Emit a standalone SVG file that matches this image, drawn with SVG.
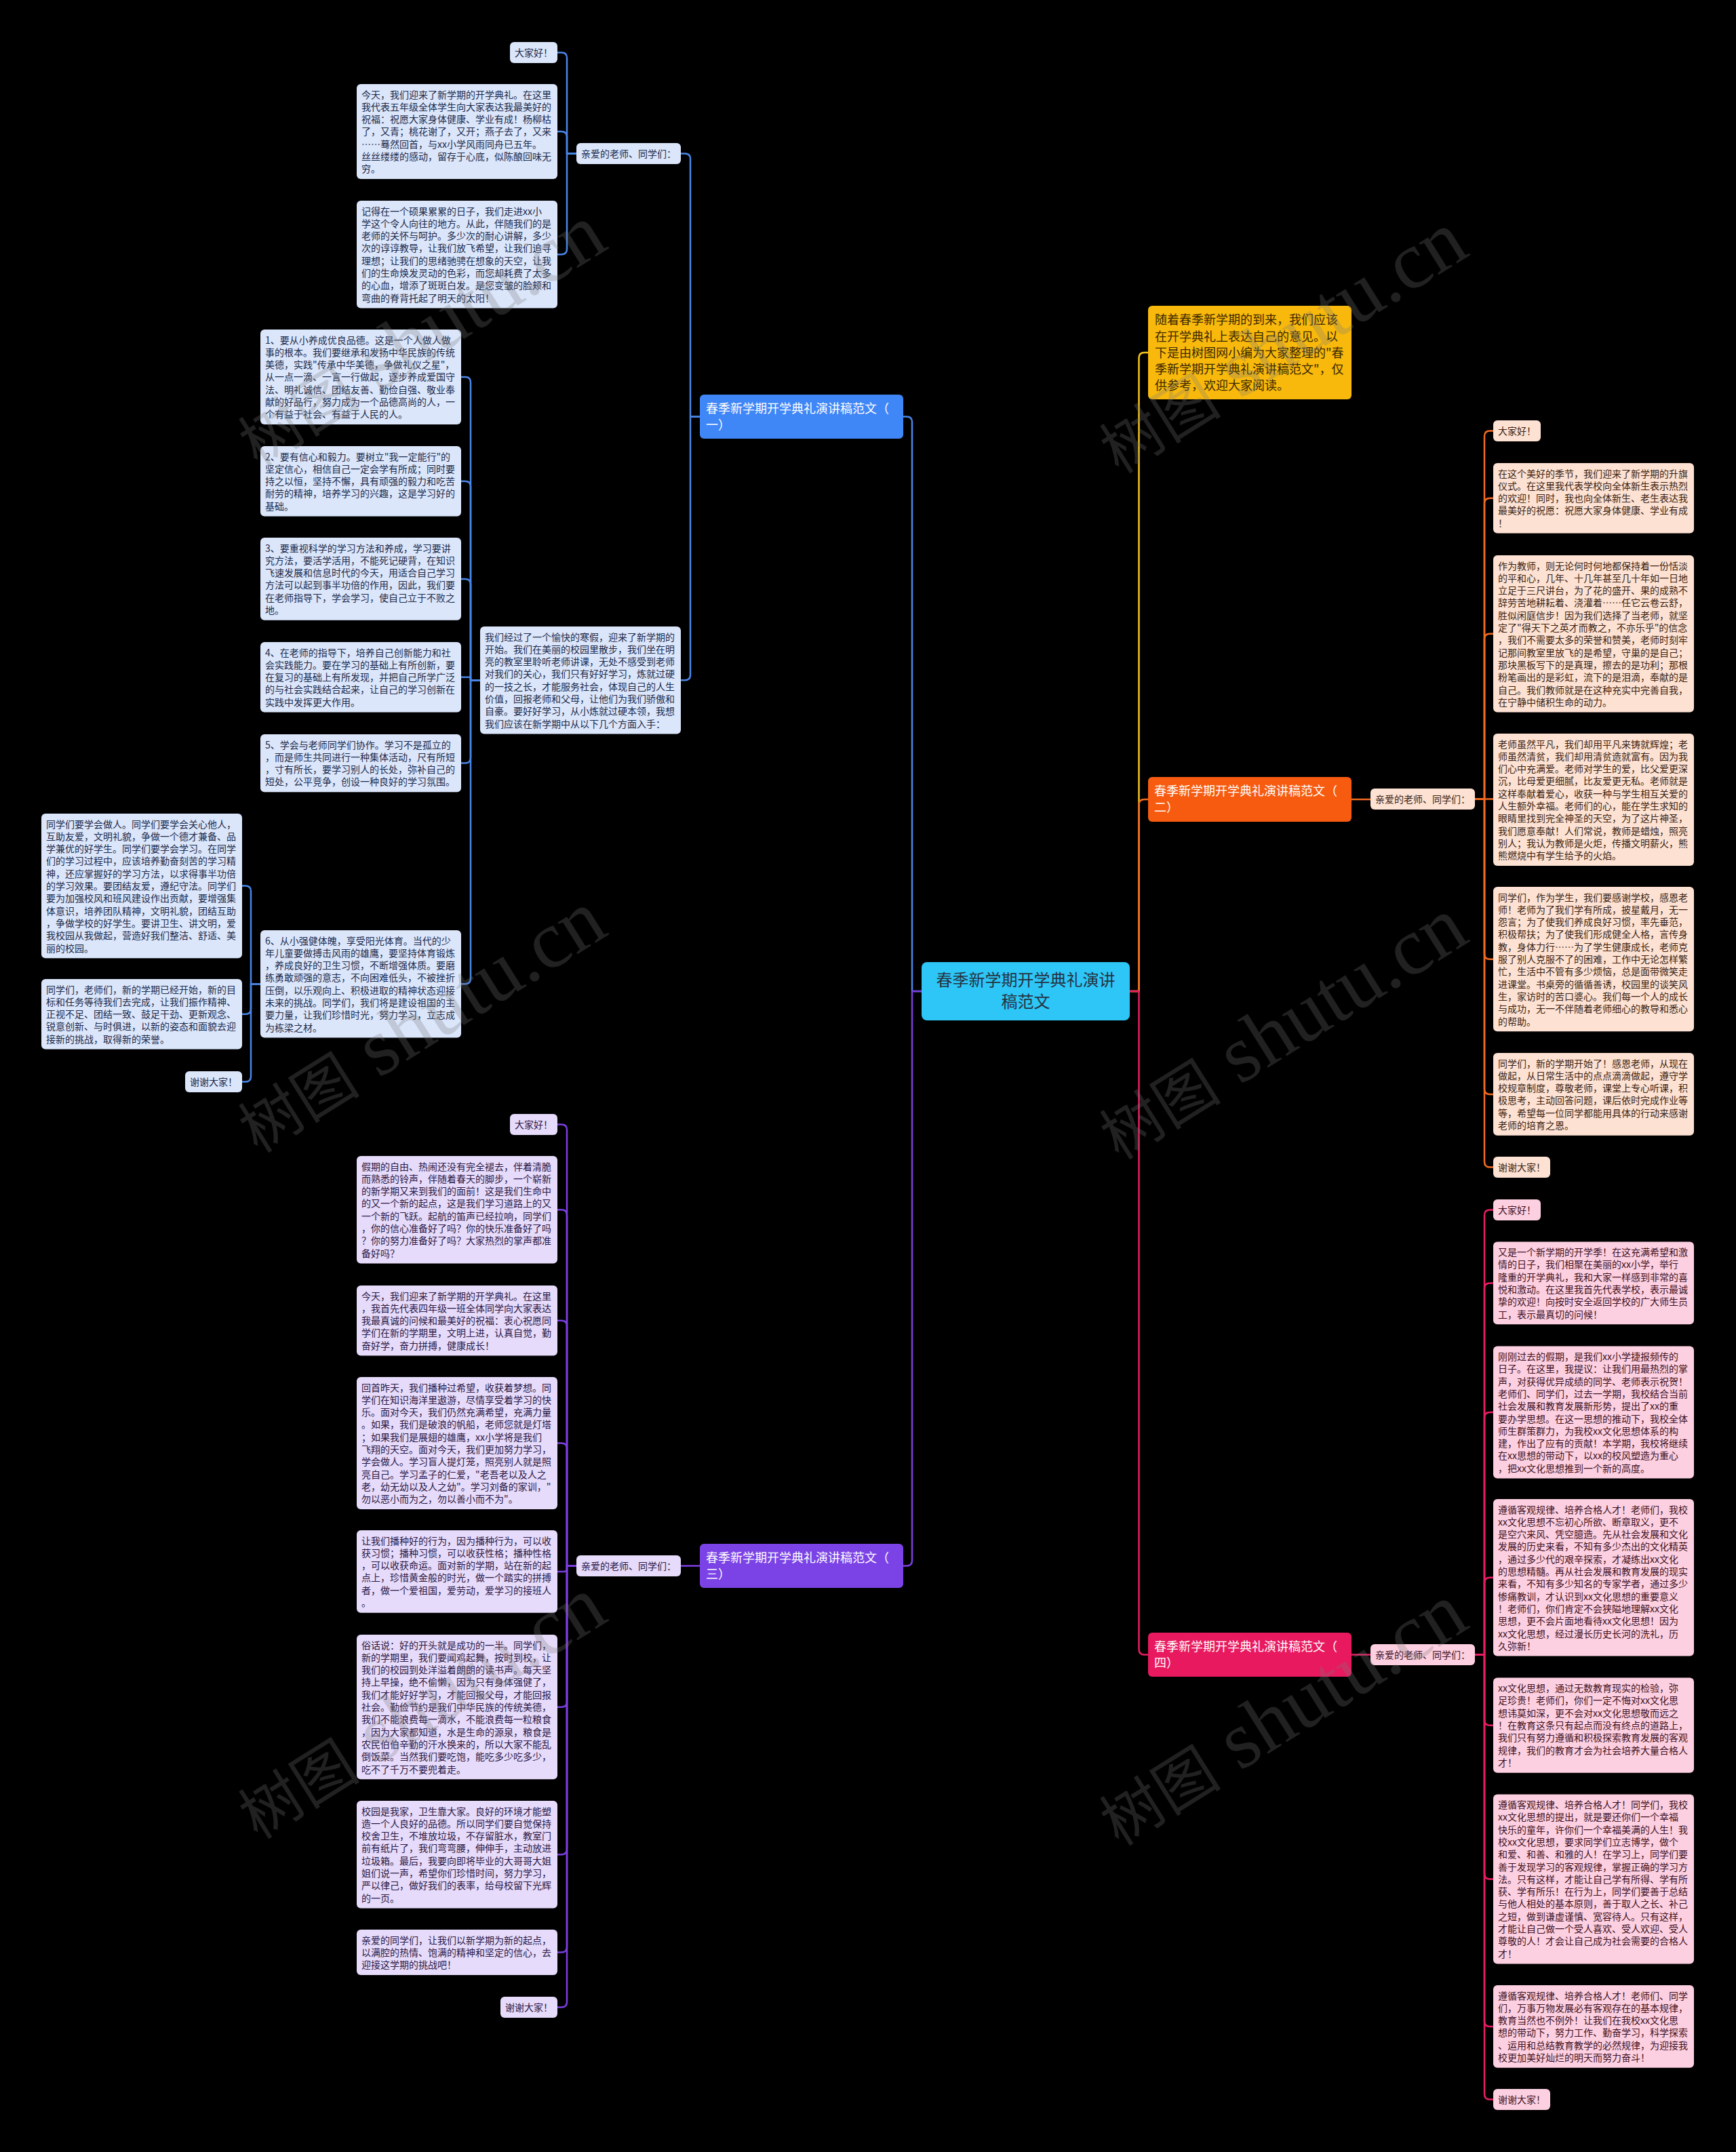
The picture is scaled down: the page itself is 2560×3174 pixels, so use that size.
<svg xmlns="http://www.w3.org/2000/svg" width="2560" height="3174" viewBox="0 0 2560 3174">
<defs>
<style>
text{font-family:"Noto Sans CJK SC","Noto Sans",sans-serif;font-size:14px}
.k1>rect{fill:#dbe6fb}.k1 text{fill:#1b2a4a}
.k2>rect{fill:#fde2d3}.k2 text{fill:#3b1f12}
.k3>rect{fill:#e6dbfa}.k3 text{fill:#2a1846}
.k4>rect{fill:#fdd0e1}.k4 text{fill:#3d1022}
.hd text{font-size:18px;fill:#ffffff}
.h1>rect{fill:#3f86f6}.h2>rect{fill:#f65b10}.h3>rect{fill:#7b43e6}.h4>rect{fill:#e8195f}
.ln{fill:none;stroke-width:2.5;stroke-linecap:round;stroke-linejoin:round}
.l1{stroke:#4a86e8}.l2{stroke:#f26b21}.l3{stroke:#7b3fe0}.l4{stroke:#e91e63}.l0{stroke:#f5c518}
.wm{font-family:"Liberation Serif","Noto Sans CJK SC",serif;fill:#7a7a7a;opacity:0.27}
</style>
</defs>
<rect width="2560" height="3174" fill="#000000"/>

<g id="connectors">
<path class="ln l1" d="M1359 1462H1345V622.5Q1345 614.5 1337 614.5H1332"/>
<path class="ln l1" d="M1032 614.5H1018V234.5Q1018 226.5 1010 226.5H1004"/>
<path class="ln l1" d="M1032 614.5H1018V995.2Q1018 1003.2 1010 1003.2H1004"/>
<path class="ln l1" d="M850 226.5H836V85.5Q836 77.5 828 77.5H822"/>
<path class="ln l1" d="M850 226.5H836V202Q836 194 828 194H822"/>
<path class="ln l1" d="M850 226.5H836V367.2Q836 375.2 828 375.2H822"/>
<path class="ln l1" d="M708 1003.2H694V564Q694 556 686 556H680"/>
<path class="ln l1" d="M708 1003.2H694V717.8Q694 709.8 686 709.8H680"/>
<path class="ln l1" d="M708 1003.2H694V861.9Q694 853.9 686 853.9H680"/>
<path class="ln l1" d="M708 1003.2H694V1001Q694 998.8 691.8 998.8H680"/>
<path class="ln l1" d="M708 1003.2H694V1117.6Q694 1125.6 686 1125.6H680"/>
<path class="ln l1" d="M708 1003.2H694V1443.2Q694 1451.2 686 1451.2H680"/>
<path class="ln l1" d="M384 1451.2H370V1314.6Q370 1306.6 362 1306.6H357"/>
<path class="ln l1" d="M384 1451.2H370V1487.8Q370 1495.8 362 1495.8H357"/>
<path class="ln l1" d="M384 1451.2H370V1587.5Q370 1595.5 362 1595.5H357"/>

<path class="ln l3" d="M1359 1462H1345V2301.5Q1345 2309.5 1337 2309.5H1332"/>
<path class="ln l3" d="M1032 2309.5H1004"/>
<path class="ln l3" d="M850 2309.5H836V1666.5Q836 1658.5 828 1658.5H822"/>
<path class="ln l3" d="M850 2309.5H836V1792.2Q836 1784.2 828 1784.2H822"/>
<path class="ln l3" d="M850 2309.5H836V1955.8Q836 1947.8 828 1947.8H822"/>
<path class="ln l3" d="M850 2309.5H836V2136.5Q836 2128.5 828 2128.5H822"/>
<path class="ln l3" d="M850 2309.5H836V2313.7Q836 2317.9 831.8 2317.9H822"/>
<path class="ln l3" d="M850 2309.5H836V2509.7Q836 2517.7 828 2517.7H822"/>
<path class="ln l3" d="M850 2309.5H836V2727.2Q836 2735.2 828 2735.2H822"/>
<path class="ln l3" d="M850 2309.5H836V2871.5Q836 2879.5 828 2879.5H822"/>
<path class="ln l3" d="M850 2309.5H836V2952.5Q836 2960.5 828 2960.5H822"/>

<path class="ln l0" d="M1666 1462H1679.5V528Q1679.5 520 1687.5 520H1693"/>

<path class="ln l2" d="M1666 1462H1679.5V1187Q1679.5 1179 1687.5 1179H1693"/>
<path class="ln l2" d="M1993 1179H2021"/>
<path class="ln l2" d="M2175 1178.5H2189V643.5Q2189 635.5 2197 635.5H2202"/>
<path class="ln l2" d="M2175 1178.5H2189V742.8Q2189 734.8 2197 734.8H2202"/>
<path class="ln l2" d="M2175 1178.5H2189V942.8Q2189 934.8 2197 934.8H2202"/>
<path class="ln l2" d="M2175 1178.5H2202"/>
<path class="ln l2" d="M2175 1178.5H2189V1406.7Q2189 1414.7 2197 1414.7H2202"/>
<path class="ln l2" d="M2175 1178.5H2189V1605.9Q2189 1613.9 2197 1613.9H2202"/>
<path class="ln l2" d="M2175 1178.5H2189V1713.5Q2189 1721.5 2197 1721.5H2202"/>

<path class="ln l4" d="M1666 1462H1679.5V2432.5Q1679.5 2440.5 1687.5 2440.5H1693"/>
<path class="ln l4" d="M1993 2440.5H2021"/>
<path class="ln l4" d="M2175 2440.5H2189V1792.5Q2189 1784.5 2197 1784.5H2202"/>
<path class="ln l4" d="M2175 2440.5H2189V1900.4Q2189 1892.4 2197 1892.4H2202"/>
<path class="ln l4" d="M2175 2440.5H2189V2091Q2189 2083 2197 2083H2202"/>
<path class="ln l4" d="M2175 2440.5H2189V2334.8Q2189 2326.8 2197 2326.8H2202"/>
<path class="ln l4" d="M2175 2440.5H2189V2536.7Q2189 2544.7 2197 2544.7H2202"/>
<path class="ln l4" d="M2175 2440.5H2189V2763.5Q2189 2771.5 2197 2771.5H2202"/>
<path class="ln l4" d="M2175 2440.5H2189V2980.9Q2189 2988.9 2197 2988.9H2202"/>
<path class="ln l4" d="M2175 2440.5H2189V3088.5Q2189 3096.5 2197 3096.5H2202"/>
</g>

<g id="center" transform="translate(1359 1419)">
<rect width="307" height="86" rx="8" fill="#2dc6f7"/>
<text x="153.5" y="34.6" text-anchor="middle" style="font-size:24px;fill:#253342"><tspan x="153.5">春季新学期开学典礼演讲</tspan><tspan x="153.5" dy="32.4">稿范文</tspan></text>
</g>

<g id="intro" transform="translate(1693 451)">
<rect width="300" height="138" rx="6" fill="#f8b90c"/>
<text x="10" y="27.4" style="font-size:18px;fill:#3a2800"><tspan x="10">随着春季新学期的到来，我们应该</tspan><tspan x="10" dy="24.2">在开学典礼上表达自己的意见。以</tspan><tspan x="10" dy="24.2">下是由树图网小编为大家整理的"春</tspan><tspan x="10" dy="24.2">季新学期开学典礼演讲稿范文"，仅</tspan><tspan x="10" dy="24.2">供参考，欢迎大家阅读。</tspan></text>
</g>

<g id="head1" class="hd h1" transform="translate(1032 582)">
<rect width="300" height="65" rx="6"/>
<text x="9" y="27"><tspan x="9">春季新学期开学典礼演讲稿范文（</tspan><tspan x="9" dy="24.4">一）</tspan></text>
</g>
<g id="head2" class="hd h2" transform="translate(1693 1146)">
<rect width="300" height="66" rx="6"/>
<text x="9" y="27"><tspan x="9">春季新学期开学典礼演讲稿范文（</tspan><tspan x="9" dy="24.4">二）</tspan></text>
</g>
<g id="head3" class="hd h3" transform="translate(1032 2277)">
<rect width="300" height="65" rx="6"/>
<text x="9" y="27"><tspan x="9">春季新学期开学典礼演讲稿范文（</tspan><tspan x="9" dy="24.4">三）</tspan></text>
</g>
<g id="head4" class="hd h4" transform="translate(1693 2408)">
<rect width="300" height="65" rx="6"/>
<text x="9" y="27"><tspan x="9">春季新学期开学典礼演讲稿范文（</tspan><tspan x="9" dy="24.4">四）</tspan></text>
</g>

<!-- branch 1 -->
<g id="n1-hello" class="k1" transform="translate(752 62)"><rect width="70" height="31" rx="6"/><text x="7" y="20.5">大家好！</text></g>
<g id="n1-a1" class="k1" transform="translate(526 124)"><rect width="296" height="140.1" rx="6"/><text x="7" y="20.5"><tspan x="7">今天，我们迎来了新学期的开学典礼。在这里</tspan><tspan x="7" dy="18.3">我代表五年级全体学生向大家表达我最美好的</tspan><tspan x="7" dy="18.3">祝福：祝愿大家身体健康、学业有成！杨柳枯</tspan><tspan x="7" dy="18.3">了，又青；桃花谢了，又开；燕子去了，又来</tspan><tspan x="7" dy="18.3">……蓦然回首，与xx小学风雨同舟已五年。</tspan><tspan x="7" dy="18.3">丝丝缕缕的感动，留存于心底，似陈酿回味无</tspan><tspan x="7" dy="18.3">穷。</tspan></text></g>
<g id="n1-a2" class="k1" transform="translate(526 296)"><rect width="296" height="158.4" rx="6"/><text x="7" y="20.5"><tspan x="7">记得在一个硕果累累的日子，我们走进xx小</tspan><tspan x="7" dy="18.3">学这个令人向往的地方。从此，伴随我们的是</tspan><tspan x="7" dy="18.3">老师的关怀与呵护。多少次的耐心讲解，多少</tspan><tspan x="7" dy="18.3">次的谆谆教导，让我们放飞希望，让我们追寻</tspan><tspan x="7" dy="18.3">理想；让我们的思绪驰骋在想象的天空，让我</tspan><tspan x="7" dy="18.3">们的生命焕发灵动的色彩，而您却耗费了太多</tspan><tspan x="7" dy="18.3">的心血，增添了斑斑白发。是您变皱的脸颊和</tspan><tspan x="7" dy="18.3">弯曲的脊背托起了明天的太阳！</tspan></text></g>
<g id="n1-dear" class="k1" transform="translate(850 211)"><rect width="154" height="31" rx="6"/><text x="7" y="20.5">亲爱的老师、同学们：</text></g>
<g id="n1-intro" class="k1" transform="translate(708 924)"><rect width="296" height="158.4" rx="6"/><text x="7" y="20.5"><tspan x="7">我们经过了一个愉快的寒假，迎来了新学期的</tspan><tspan x="7" dy="18.3">开始。我们在美丽的校园里散步，我们坐在明</tspan><tspan x="7" dy="18.3">亮的教室里聆听老师讲课，无处不感受到老师</tspan><tspan x="7" dy="18.3">对我们的关心，我们只有好好学习，炼就过硬</tspan><tspan x="7" dy="18.3">的一技之长，才能服务社会，体现自己的人生</tspan><tspan x="7" dy="18.3">价值，回报老师和父母，让他们为我们骄傲和</tspan><tspan x="7" dy="18.3">自豪。要好好学习，从小炼就过硬本领，我想</tspan><tspan x="7" dy="18.3">我们应该在新学期中从以下几个方面入手：</tspan></text></g>
<g id="n1-b1" class="k1" transform="translate(384 486)"><rect width="296" height="140.1" rx="6"/><text x="7" y="20.5"><tspan x="7">1、要从小养成优良品德。这是一个人做人做</tspan><tspan x="7" dy="18.3">事的根本。我们要继承和发扬中华民族的传统</tspan><tspan x="7" dy="18.3">美德，实践"传承中华美德，争做礼仪之星"，</tspan><tspan x="7" dy="18.3">从一点一滴、一言一行做起，逐步养成爱国守</tspan><tspan x="7" dy="18.3">法、明礼诚信、团结友善、勤俭自强、敬业奉</tspan><tspan x="7" dy="18.3">献的好品行，努力成为一个品德高尚的人，一</tspan><tspan x="7" dy="18.3">个有益于社会、有益于人民的人。</tspan></text></g>
<g id="n1-b2" class="k1" transform="translate(384 658)"><rect width="296" height="103.5" rx="6"/><text x="7" y="20.5"><tspan x="7">2、要有信心和毅力。要树立"我一定能行"的</tspan><tspan x="7" dy="18.3">坚定信心，相信自己一定会学有所成；同时要</tspan><tspan x="7" dy="18.3">持之以恒，坚持不懈，具有顽强的毅力和吃苦</tspan><tspan x="7" dy="18.3">耐劳的精神，培养学习的兴趣，这是学习好的</tspan><tspan x="7" dy="18.3">基础。</tspan></text></g>
<g id="n1-b3" class="k1" transform="translate(384 793)"><rect width="296" height="121.8" rx="6"/><text x="7" y="20.5"><tspan x="7">3、要重视科学的学习方法和养成，学习要讲</tspan><tspan x="7" dy="18.3">究方法，要活学活用，不能死记硬背，在知识</tspan><tspan x="7" dy="18.3">飞速发展和信息时代的今天，用适合自己学习</tspan><tspan x="7" dy="18.3">方法可以起到事半功倍的作用，因此，我们要</tspan><tspan x="7" dy="18.3">在老师指导下，学会学习，使自己立于不败之</tspan><tspan x="7" dy="18.3">地。</tspan></text></g>
<g id="n1-b4" class="k1" transform="translate(384 947)"><rect width="296" height="103.5" rx="6"/><text x="7" y="20.5"><tspan x="7">4、在老师的指导下，培养自己创新能力和社</tspan><tspan x="7" dy="18.3">会实践能力。要在学习的基础上有所创新，要</tspan><tspan x="7" dy="18.3">在复习的基础上有所发现，并把自己所学广泛</tspan><tspan x="7" dy="18.3">的与社会实践结合起来，让自己的学习创新在</tspan><tspan x="7" dy="18.3">实践中发挥更大作用。</tspan></text></g>
<g id="n1-b5" class="k1" transform="translate(384 1083)"><rect width="296" height="85.2" rx="6"/><text x="7" y="20.5"><tspan x="7">5、学会与老师同学们协作。学习不是孤立的</tspan><tspan x="7" dy="18.3">，而是师生共同进行一种集体活动，尺有所短</tspan><tspan x="7" dy="18.3">，寸有所长，要学习别人的长处，弥补自己的</tspan><tspan x="7" dy="18.3">短处，公平竞争，创设一种良好的学习氛围。</tspan></text></g>
<g id="n1-b6" class="k1" transform="translate(384 1372)"><rect width="296" height="158.4" rx="6"/><text x="7" y="20.5"><tspan x="7">6、从小强健体魄，享受阳光体育。当代的少</tspan><tspan x="7" dy="18.3">年儿童要做搏击风雨的雄鹰，要坚持体育锻炼</tspan><tspan x="7" dy="18.3">，养成良好的卫生习惯，不断增强体质。要磨</tspan><tspan x="7" dy="18.3">练勇敢顽强的意志，不向困难低头，不被挫折</tspan><tspan x="7" dy="18.3">压倒，以乐观向上、积极进取的精神状态迎接</tspan><tspan x="7" dy="18.3">未来的挑战。同学们，我们将是建设祖国的主</tspan><tspan x="7" dy="18.3">要力量，让我们珍惜时光，努力学习，立志成</tspan><tspan x="7" dy="18.3">为栋梁之材。</tspan></text></g>
<g id="n1-l1" class="k1" transform="translate(61 1200)"><rect width="296" height="213.3" rx="6"/><text x="7" y="20.5"><tspan x="7">同学们要学会做人。同学们要学会关心他人，</tspan><tspan x="7" dy="18.3">互助友爱，文明礼貌，争做一个德才兼备、品</tspan><tspan x="7" dy="18.3">学兼优的好学生。同学们要学会学习。在同学</tspan><tspan x="7" dy="18.3">们的学习过程中，应该培养勤奋刻苦的学习精</tspan><tspan x="7" dy="18.3">神，还应掌握好的学习方法，以求得事半功倍</tspan><tspan x="7" dy="18.3">的学习效果。要团结友爱，遵纪守法。同学们</tspan><tspan x="7" dy="18.3">要为加强校风和班风建设作出贡献，要增强集</tspan><tspan x="7" dy="18.3">体意识，培养团队精神，文明礼貌，团结互助</tspan><tspan x="7" dy="18.3">，争做学校的好学生。要讲卫生、讲文明，爱</tspan><tspan x="7" dy="18.3">我校园从我做起，营造好我们整洁、舒适、美</tspan><tspan x="7" dy="18.3">丽的校园。</tspan></text></g>
<g id="n1-l2" class="k1" transform="translate(61 1444)"><rect width="296" height="103.5" rx="6"/><text x="7" y="20.5"><tspan x="7">同学们，老师们，新的学期已经开始，新的目</tspan><tspan x="7" dy="18.3">标和任务等待我们去完成，让我们振作精神、</tspan><tspan x="7" dy="18.3">正视不足、团结一致、鼓足干劲、更新观念、</tspan><tspan x="7" dy="18.3">锐意创新、与时俱进，以新的姿态和面貌去迎</tspan><tspan x="7" dy="18.3">接新的挑战，取得新的荣誉。</tspan></text></g>
<g id="n1-thx" class="k1" transform="translate(273 1580)"><rect width="84" height="31" rx="6"/><text x="7" y="20.5">谢谢大家！</text></g>

<!-- branch 3 -->
<g id="n3-hello" class="k3" transform="translate(752 1643)"><rect width="70" height="31" rx="6"/><text x="7" y="20.5">大家好！</text></g>
<g id="n3-p1" class="k3" transform="translate(526 1705)"><rect width="296" height="158.4" rx="6"/><text x="7" y="20.5"><tspan x="7">假期的自由、热闹还没有完全褪去，伴着清脆</tspan><tspan x="7" dy="18.3">而熟悉的铃声，伴随着春天的脚步，一个崭新</tspan><tspan x="7" dy="18.3">的新学期又来到我们的面前！这是我们生命中</tspan><tspan x="7" dy="18.3">的又一个新的起点，这是我们学习道路上的又</tspan><tspan x="7" dy="18.3">一个新的飞跃。起航的笛声已经拉响，同学们</tspan><tspan x="7" dy="18.3">，你的信心准备好了吗？你的快乐准备好了吗</tspan><tspan x="7" dy="18.3">？你的努力准备好了吗？大家热烈的掌声都准</tspan><tspan x="7" dy="18.3">备好吗？</tspan></text></g>
<g id="n3-p2" class="k3" transform="translate(526 1896)"><rect width="296" height="103.5" rx="6"/><text x="7" y="20.5"><tspan x="7">今天，我们迎来了新学期的开学典礼。在这里</tspan><tspan x="7" dy="18.3">，我首先代表四年级一班全体同学向大家表达</tspan><tspan x="7" dy="18.3">我最真诚的问候和最美好的祝福：衷心祝愿同</tspan><tspan x="7" dy="18.3">学们在新的学期里，文明上进，认真自觉，勤</tspan><tspan x="7" dy="18.3">奋好学，奋力拼搏，健康成长！</tspan></text></g>
<g id="n3-p3" class="k3" transform="translate(526 2031)"><rect width="296" height="195" rx="6"/><text x="7" y="20.5"><tspan x="7">回首昨天，我们播种过希望，收获着梦想。同</tspan><tspan x="7" dy="18.3">学们在知识海洋里遨游，尽情享受着学习的快</tspan><tspan x="7" dy="18.3">乐。面对今天，我们仍然充满希望，充满力量</tspan><tspan x="7" dy="18.3">。如果，我们是破浪的帆船，老师您就是灯塔</tspan><tspan x="7" dy="18.3">；如果我们是展翅的雄鹰，xx小学将是我们</tspan><tspan x="7" dy="18.3">飞翔的天空。面对今天，我们更加努力学习，</tspan><tspan x="7" dy="18.3">学会做人。学习盲人提灯笼，照亮别人就是照</tspan><tspan x="7" dy="18.3">亮自己。学习孟子的仁爱，"老吾老以及人之</tspan><tspan x="7" dy="18.3">老，幼无幼以及人之幼"。学习刘备的家训，"</tspan><tspan x="7" dy="18.3">勿以恶小而为之，勿以善小而不为"。</tspan></text></g>
<g id="n3-p4" class="k3" transform="translate(526 2257)"><rect width="296" height="121.8" rx="6"/><text x="7" y="20.5"><tspan x="7">让我们播种好的行为，因为播种行为，可以收</tspan><tspan x="7" dy="18.3">获习惯；播种习惯，可以收获性格；播种性格</tspan><tspan x="7" dy="18.3">，可以收获命运。面对新的学期，站在新的起</tspan><tspan x="7" dy="18.3">点上，珍惜黄金般的时光，做一个踏实的拼搏</tspan><tspan x="7" dy="18.3">者，做一个爱祖国，爱劳动，爱学习的接班人</tspan><tspan x="7" dy="18.3">。</tspan></text></g>
<g id="n3-dear" class="k3" transform="translate(850 2294)"><rect width="154" height="31" rx="6"/><text x="7" y="20.5">亲爱的老师、同学们：</text></g>
<g id="n3-p5" class="k3" transform="translate(526 2411)"><rect width="296" height="213.3" rx="6"/><text x="7" y="20.5"><tspan x="7">俗话说：好的开头就是成功的一半。同学们，</tspan><tspan x="7" dy="18.3">新的学期里，我们要闻鸡起舞，按时到校，让</tspan><tspan x="7" dy="18.3">我们的校园到处洋溢着朗朗的读书声。每天坚</tspan><tspan x="7" dy="18.3">持上早操，绝不偷懒，因为只有身体强健了，</tspan><tspan x="7" dy="18.3">我们才能好好学习，才能回报父母，才能回报</tspan><tspan x="7" dy="18.3">社会。勤俭节约是我们中华民族的传统美德，</tspan><tspan x="7" dy="18.3">我们不能浪费每一滴水，不能浪费每一粒粮食</tspan><tspan x="7" dy="18.3">，因为大家都知道，水是生命的源泉，粮食是</tspan><tspan x="7" dy="18.3">农民伯伯辛勤的汗水换来的，所以大家不能乱</tspan><tspan x="7" dy="18.3">倒饭菜。当然我们要吃饱，能吃多少吃多少，</tspan><tspan x="7" dy="18.3">吃不了千万不要兜着走。</tspan></text></g>
<g id="n3-p6" class="k3" transform="translate(526 2656)"><rect width="296" height="158.4" rx="6"/><text x="7" y="20.5"><tspan x="7">校园是我家，卫生靠大家。良好的环境才能塑</tspan><tspan x="7" dy="18.3">造一个人良好的品德。所以同学们要自觉保持</tspan><tspan x="7" dy="18.3">校舍卫生，不堆放垃圾，不存留脏水，教室门</tspan><tspan x="7" dy="18.3">前有纸片了，我们弯弯腰，伸伸手，主动放进</tspan><tspan x="7" dy="18.3">垃圾箱。最后，我要向即将毕业的大哥哥大姐</tspan><tspan x="7" dy="18.3">姐们说一声，希望你们珍惜时间，努力学习，</tspan><tspan x="7" dy="18.3">严以律己，做好我们的表率，给母校留下光辉</tspan><tspan x="7" dy="18.3">的一页。</tspan></text></g>
<g id="n3-p7" class="k3" transform="translate(526 2846)"><rect width="296" height="66.9" rx="6"/><text x="7" y="20.5"><tspan x="7">亲爱的同学们，让我们以新学期为新的起点，</tspan><tspan x="7" dy="18.3">以满腔的热情、饱满的精神和坚定的信心，去</tspan><tspan x="7" dy="18.3">迎接这学期的挑战吧！</tspan></text></g>
<g id="n3-thx" class="k3" transform="translate(738 2945)"><rect width="84" height="31" rx="6"/><text x="7" y="20.5">谢谢大家！</text></g>

<!-- branch 2 -->
<g id="n2-dear" class="k2" transform="translate(2021 1163)"><rect width="154" height="31" rx="6"/><text x="7" y="20.5">亲爱的老师、同学们：</text></g>
<g id="n2-hello" class="k2" transform="translate(2202 620)"><rect width="70" height="31" rx="6"/><text x="7" y="20.5">大家好！</text></g>
<g id="n2-r1" class="k2" transform="translate(2202 683)"><rect width="296" height="103.5" rx="6"/><text x="7" y="20.5"><tspan x="7">在这个美好的季节，我们迎来了新学期的升旗</tspan><tspan x="7" dy="18.3">仪式。在这里我代表学校向全体新生表示热烈</tspan><tspan x="7" dy="18.3">的欢迎！同时，我也向全体新生、老生表达我</tspan><tspan x="7" dy="18.3">最美好的祝愿：祝愿大家身体健康、学业有成</tspan><tspan x="7" dy="18.3">！</tspan></text></g>
<g id="n2-r2" class="k2" transform="translate(2202 819)"><rect width="296" height="231.6" rx="6"/><text x="7" y="20.5"><tspan x="7">作为教师，则无论何时何地都保持着一份恬淡</tspan><tspan x="7" dy="18.3">的平和心，几年、十几年甚至几十年如一日地</tspan><tspan x="7" dy="18.3">立足于三尺讲台，为了花的盛开、果的成熟不</tspan><tspan x="7" dy="18.3">辞劳苦地耕耘着、浇灌着……任它云卷云舒，</tspan><tspan x="7" dy="18.3">胜似闲庭信步！因为我们选择了当老师，就坚</tspan><tspan x="7" dy="18.3">定了"得天下之英才而教之，不亦乐乎"的信念</tspan><tspan x="7" dy="18.3">，我们不需要太多的荣誉和赞美，老师时刻牢</tspan><tspan x="7" dy="18.3">记那间教室里放飞的是希望，守巢的是自己；</tspan><tspan x="7" dy="18.3">那块黑板写下的是真理，擦去的是功利；那根</tspan><tspan x="7" dy="18.3">粉笔画出的是彩虹，流下的是泪滴，奉献的是</tspan><tspan x="7" dy="18.3">自己。我们教师就是在这种充实中完善自我，</tspan><tspan x="7" dy="18.3">在宁静中储积生命的动力。</tspan></text></g>
<g id="n2-r3" class="k2" transform="translate(2202 1082)"><rect width="296" height="195" rx="6"/><text x="7" y="20.5"><tspan x="7">老师虽然平凡，我们却用平凡来铸就辉煌；老</tspan><tspan x="7" dy="18.3">师虽然清贫，我们却用清贫造就富有。因为我</tspan><tspan x="7" dy="18.3">们心中充满爱。老师对学生的爱，比父爱更深</tspan><tspan x="7" dy="18.3">沉，比母爱更细腻，比友爱更无私。老师就是</tspan><tspan x="7" dy="18.3">这样奉献着爱心，收获一种与学生相互关爱的</tspan><tspan x="7" dy="18.3">人生额外幸福。老师们的心，能在学生求知的</tspan><tspan x="7" dy="18.3">眼睛里找到完全神圣的天空，为了这片神圣，</tspan><tspan x="7" dy="18.3">我们愿意奉献！人们常说，教师是蜡烛，照亮</tspan><tspan x="7" dy="18.3">别人；我认为教师是火炬，传播文明薪火，熊</tspan><tspan x="7" dy="18.3">熊燃烧中有学生给予的火焰。</tspan></text></g>
<g id="n2-r4" class="k2" transform="translate(2202 1308)"><rect width="296" height="213.3" rx="6"/><text x="7" y="20.5"><tspan x="7">同学们，作为学生，我们要感谢学校，感恩老</tspan><tspan x="7" dy="18.3">师！老师为了我们学有所成，披星戴月，无一</tspan><tspan x="7" dy="18.3">怨言；为了使我们养成良好习惯，率先垂范，</tspan><tspan x="7" dy="18.3">积极帮扶；为了使我们形成健全人格，言传身</tspan><tspan x="7" dy="18.3">教，身体力行……为了学生健康成长，老师克</tspan><tspan x="7" dy="18.3">服了别人克服不了的困难，工作中无论怎样繁</tspan><tspan x="7" dy="18.3">忙，生活中不管有多少烦恼，总是面带微笑走</tspan><tspan x="7" dy="18.3">进课堂。书桌旁的循循善诱，校园里的谈笑风</tspan><tspan x="7" dy="18.3">生，家访时的苦口婆心。我们每一个人的成长</tspan><tspan x="7" dy="18.3">与成功，无一不伴随着老师细心的教导和悉心</tspan><tspan x="7" dy="18.3">的帮助。</tspan></text></g>
<g id="n2-r5" class="k2" transform="translate(2202 1553)"><rect width="296" height="121.8" rx="6"/><text x="7" y="20.5"><tspan x="7">同学们，新的学期开始了！感恩老师，从现在</tspan><tspan x="7" dy="18.3">做起，从日常生活中的点点滴滴做起，遵守学</tspan><tspan x="7" dy="18.3">校规章制度，尊敬老师，课堂上专心听课，积</tspan><tspan x="7" dy="18.3">极思考，主动回答问题，课后依时完成作业等</tspan><tspan x="7" dy="18.3">等，希望每一位同学都能用具体的行动来感谢</tspan><tspan x="7" dy="18.3">老师的培育之恩。</tspan></text></g>
<g id="n2-thx" class="k2" transform="translate(2202 1706)"><rect width="84" height="31" rx="6"/><text x="7" y="20.5">谢谢大家！</text></g>

<!-- branch 4 -->
<g id="n4-dear" class="k4" transform="translate(2021 2425)"><rect width="154" height="31" rx="6"/><text x="7" y="20.5">亲爱的老师、同学们：</text></g>
<g id="n4-hello" class="k4" transform="translate(2202 1769)"><rect width="70" height="31" rx="6"/><text x="7" y="20.5">大家好！</text></g>
<g id="n4-s1" class="k4" transform="translate(2202 1831.5)"><rect width="296" height="121.8" rx="6"/><text x="7" y="20.5"><tspan x="7">又是一个新学期的开学季！在这充满希望和激</tspan><tspan x="7" dy="18.3">情的日子，我们相聚在美丽的xx小学，举行</tspan><tspan x="7" dy="18.3">隆重的开学典礼，我和大家一样感到非常的喜</tspan><tspan x="7" dy="18.3">悦和激动。在这里我首先代表学校，表示最诚</tspan><tspan x="7" dy="18.3">挚的欢迎！向按时安全返回学校的广大师生员</tspan><tspan x="7" dy="18.3">工，表示最真切的问候！</tspan></text></g>
<g id="n4-s2" class="k4" transform="translate(2202 1985.5)"><rect width="296" height="195" rx="6"/><text x="7" y="20.5"><tspan x="7">刚刚过去的假期，是我们xx小学捷报频传的</tspan><tspan x="7" dy="18.3">日子。在这里，我提议：让我们用最热烈的掌</tspan><tspan x="7" dy="18.3">声，对获得优异成绩的同学、老师表示祝贺！</tspan><tspan x="7" dy="18.3">老师们、同学们，过去一学期，我校结合当前</tspan><tspan x="7" dy="18.3">社会发展和教育发展新形势，提出了xx的重</tspan><tspan x="7" dy="18.3">要办学思想。在这一思想的推动下，我校全体</tspan><tspan x="7" dy="18.3">师生群策群力，为我校xx文化思想体系的构</tspan><tspan x="7" dy="18.3">建，作出了应有的贡献！本学期，我校将继续</tspan><tspan x="7" dy="18.3">在xx思想的带动下，以xx的校风塑造为重心</tspan><tspan x="7" dy="18.3">，把xx文化思想推到一个新的高度。</tspan></text></g>
<g id="n4-s3" class="k4" transform="translate(2202 2211)"><rect width="296" height="231.6" rx="6"/><text x="7" y="20.5"><tspan x="7">遵循客观规律、培养合格人才！老师们，我校</tspan><tspan x="7" dy="18.3">xx文化思想不忘初心所欲、断章取义，更不</tspan><tspan x="7" dy="18.3">是空穴来风、凭空臆造。先从社会发展和文化</tspan><tspan x="7" dy="18.3">发展的历史来看，不知有多少杰出的文化精英</tspan><tspan x="7" dy="18.3">，通过多少代的艰辛探索，才凝练出xx文化</tspan><tspan x="7" dy="18.3">的思想精髓。再从社会发展和教育发展的现实</tspan><tspan x="7" dy="18.3">来看，不知有多少知名的专家学者，通过多少</tspan><tspan x="7" dy="18.3">惨痛教训，才认识到xx文化思想的重要意义</tspan><tspan x="7" dy="18.3">！老师们，你们肯定不会狭隘地理解xx文化</tspan><tspan x="7" dy="18.3">思想，更不会片面地看待xx文化思想！因为</tspan><tspan x="7" dy="18.3">xx文化思想，经过漫长历史长河的洗礼，历</tspan><tspan x="7" dy="18.3">久弥新！</tspan></text></g>
<g id="n4-s4" class="k4" transform="translate(2202 2474.6)"><rect width="296" height="140.1" rx="6"/><text x="7" y="20.5"><tspan x="7">xx文化思想，通过无数教育现实的检验，弥</tspan><tspan x="7" dy="18.3">足珍贵！老师们，你们一定不悔对xx文化思</tspan><tspan x="7" dy="18.3">想讳莫如深，更不会对xx文化思想敬而远之</tspan><tspan x="7" dy="18.3">！在教育这条只有起点而没有终点的道路上，</tspan><tspan x="7" dy="18.3">我们只有努力遵循和积极探索教育发展的客观</tspan><tspan x="7" dy="18.3">规律，我们的教育才会为社会培养大量合格人</tspan><tspan x="7" dy="18.3">才！</tspan></text></g>
<g id="n4-s5" class="k4" transform="translate(2202 2646.5)"><rect width="296" height="249.9" rx="6"/><text x="7" y="20.5"><tspan x="7">遵循客观规律、培养合格人才！同学们，我校</tspan><tspan x="7" dy="18.3">xx文化思想的提出，就是要还你们一个幸福</tspan><tspan x="7" dy="18.3">快乐的童年，许你们一个幸福美满的人生！我</tspan><tspan x="7" dy="18.3">校xx文化思想，要求同学们立志博学，做个</tspan><tspan x="7" dy="18.3">和爱、和善、和雅的人！在学习上，同学们要</tspan><tspan x="7" dy="18.3">善于发现学习的客观规律，掌握正确的学习方</tspan><tspan x="7" dy="18.3">法。只有这样，才能让自己学有所得、学有所</tspan><tspan x="7" dy="18.3">获、学有所乐！在行为上，同学们要善于总结</tspan><tspan x="7" dy="18.3">与他人相处的基本原则，善于取人之长、补己</tspan><tspan x="7" dy="18.3">之短，做到谦虚谨慎、宽容待人。只有这样，</tspan><tspan x="7" dy="18.3">才能让自己做一个受人喜欢、受人欢迎、受人</tspan><tspan x="7" dy="18.3">尊敬的人！才会让自己成为社会需要的合格人</tspan><tspan x="7" dy="18.3">才！</tspan></text></g>
<g id="n4-s6" class="k4" transform="translate(2202 2928)"><rect width="296" height="121.8" rx="6"/><text x="7" y="20.5"><tspan x="7">遵循客观规律、培养合格人才！老师们、同学</tspan><tspan x="7" dy="18.3">们，万事万物发展必有客观存在的基本规律，</tspan><tspan x="7" dy="18.3">教育当然也不例外！让我们在我校xx文化思</tspan><tspan x="7" dy="18.3">想的带动下，努力工作、勤奋学习，科学探索</tspan><tspan x="7" dy="18.3">、运用和总结教育教学的必然规律，为迎接我</tspan><tspan x="7" dy="18.3">校更加美好灿烂的明天而努力奋斗！</tspan></text></g>
<g id="n4-thx" class="k4" transform="translate(2202 3081)"><rect width="84" height="31" rx="6"/><text x="7" y="20.5">谢谢大家！</text></g>

<g id="watermarks">
<text class="wm" transform="translate(380 690) rotate(-32)"><tspan style="font-size:90px">树图</tspan><tspan style="font-size:120px"> shutu.cn</tspan></text>
<text class="wm" transform="translate(380 1702) rotate(-32)"><tspan style="font-size:90px">树图</tspan><tspan style="font-size:120px"> shutu.cn</tspan></text>
<text class="wm" transform="translate(380 2714) rotate(-32)"><tspan style="font-size:90px">树图</tspan><tspan style="font-size:120px"> shutu.cn</tspan></text>
<text class="wm" transform="translate(1650 700) rotate(-32)"><tspan style="font-size:90px">树图</tspan><tspan style="font-size:120px"> shutu.cn</tspan></text>
<text class="wm" transform="translate(1650 1712) rotate(-32)"><tspan style="font-size:90px">树图</tspan><tspan style="font-size:120px"> shutu.cn</tspan></text>
<text class="wm" transform="translate(1650 2724) rotate(-32)"><tspan style="font-size:90px">树图</tspan><tspan style="font-size:120px"> shutu.cn</tspan></text>
</g>
</svg>
